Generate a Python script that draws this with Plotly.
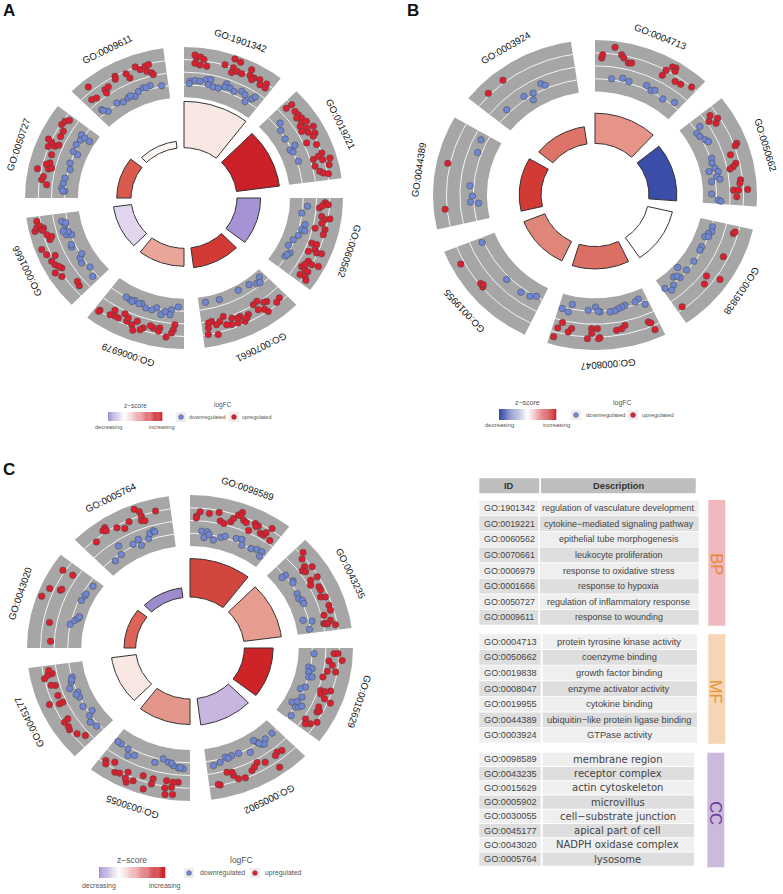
import numpy as np
import plotly.graph_objects as go
from plotly.colors import sample_colorscale

W, H = 783, 894
_GREY = "#A6A6A6"
_EDGE = "#333333"
_BLUE = "#7086D2"
_RED = "#DC1F2E"
_FONT = "Liberation Sans, Arial, sans-serif"
_TEXT = "#333333"

# angles are degrees clockwise from 12 o'clock, second value is logFC
A_IDS = ["GO:1901342", "GO:0019221", "GO:0060562", "GO:0070661", "GO:0006979", "GO:0001666", "GO:0050727", "GO:0009611"]
A_BARS = [0.64, 0.605, 0.482, 0.466, 0.452, 0.447, 0.423, 0.378]
A_COLORS = ["#F7E8E4", "#CB2027", "#A593D3", "#D23B35", "#E9A598", "#E2D6EE", "#DB5A4E", "#FBF4F0"]
A_UP = [
    (4.9, 1.74), (6.4, 1.9), (4.2, 2.1), (7.8, 1.65), (4.4, 1.1), (6.5, 0.94), (9.3, 0.92), (16.3, 1.55), (19.2, 2.55),
    (21.6, 2.4), (19.8, 1.5), (21.8, 1.25), (19.8, 0.9), (23.8, 1.2), (26.6, 2.1), (27.1, 1.4), (29, 1.35), (28.5, 1.05),
    (31.4, 1.5), (32.5, 1), (34.5, 1.5), (35, 1),
    (47.3, 0.76), (47.6, 1.5), (50.6, 1.26), (52.5, 1.3), (54.4, 1.38), (53.2, 0.92), (56.1, 1.03), (56.6, 1.6), (57, 0.67),
    (59, 1.2), (59.7, 1.95), (59.2, 0.5), (60.9, 1.1), (62.4, 1.73), (64.7, 0.35), (67, 1.3), (63.3, 1.38), (71, 1.5),
    (72.6, 0.34), (71.9, 1), (73.8, 1.35), (73.9, 2.2), (76.4, 1.9), (75.7, 0.3), (78.3, 0.7), (79.3, 1.05), (80, 1.6),
    (92, 0.98), (92.8, 1.35), (94.4, 0.38), (93.4, 0.7), (98, 0.74), (99.2, 1.16), (98.6, 1.7), (101, 0.88), (103.3, 1.4),
    (103.6, 0.27), (105.5, 1.36), (110.4, 0.43), (110.3, 1), (112.5, 1.05), (114.3, 0.45), (113.6, 1.37), (113.1, 1.93),
    (118.2, 0.96), (118.8, 1.49), (118.2, 2.25), (121.5, 0.62), (122, 1.14), (122.1, 1.55), (124.8, 1), (124.3, 1.58),
    (125.4, 1.93), (120, 0.8),
    (137.8, 1.07), (139.8, 1.27), (142.8, 0.47), (144, 0.35), (146.2, -0.18), (148.3, -0.06), (147.7, 0.74), (145.5, 1.1),
    (144.8, 1.54), (152.3, 0.69), (154.8, 1.25), (155.8, 0.47), (157.6, 1.12), (159.3, 0.3), (160.3, 1.03), (162.3, 0.86),
    (162.5, -0.2), (164.6, 0.26), (166.3, 0.55), (168, 0.04), (169.5, 0.16), (169.9, 0.73), (166.6, 1.73), (170.4, 1.5),
    (157, 0.6), (153.5, 0.95),
    (183.9, 0.14), (184.4, 0.75), (185, 1.14), (187, 1.7), (190, 0.73), (190.3, 1.15), (192.6, 0.88), (194, 0.7), (196.6, 1.16),
    (197.6, 1.47), (199.8, 0.62), (200.2, 1.8), (201.4, 1.22), (203.8, 1.07), (203.8, 0.63), (205.8, 0.33), (207.5, 1.12),
    (209, 1.12), (210.3, 0.5), (211, 1.23), (215.4, 1.41), (215.6, 1.6),
    (228.6, 0.8), (230.5, 0.64), (235.9, 1.7), (238.5, 2.1), (238.9, 1.16), (241.4, 1.62), (240, 1.35), (243.3, 1.77),
    (244.8, 1.12), (246.5, 1.95), (249.1, 2.24), (251.9, 0.96), (253, 0.65), (254.3, 1.14), (256.8, 1.54), (256.7, 2.33),
    (257.9, 2.06), (257.3, 1.3), (260.5, 1.9), (258.5, 1.7), (256.5, 1.5),
    (275.8, 0.62), (277.7, 1.25), (279.2, 1.12), (281.9, 1.95), (282.7, 0.73), (283.4, 0.4), (285.4, 0.73), (289, 0.85),
    (291.8, 1.54), (292.9, 0.85), (293.9, 1.38), (294, 0.5), (294.6, 1.88), (297.7, 0.78), (300.2, 0.8), (302.3, 1.38),
    (304.2, 1.28), (305.5, 0.93), (284.5, 1.1),
    (320.7, 2.1), (318.3, 0.7), (320.3, 0.48), (325.3, 0.7), (327.1, 0.78), (325, 0.27), (331.7, 1.47), (336.1, 1.2),
    (336.8, 0.56), (340.5, 1.58), (342, 1.09), (344.3, 1.3), (345.8, 1.4), (344.4, 0.67), (346.2, 0.36), (346.7, 0.12),
    (331.2, 1.15),
]
A_DOWN = [
    (2.8, -1.07), (5.1, -0.95), (7.4, -0.97), (2.5, -1.35), (10.3, -0.66), (12.1, -0.57), (11.5, -1.2), (14, -1.35),
    (16.5, -1.33), (19.5, -0.57), (19.3, -0.98), (21.7, -0.9), (24, -1.1), (27.2, -0.7), (29.3, -0.9), (31, -1.58),
    (33, -0.93), (33.8, -0.5),
    (50.6, -0.93), (53.7, -1.43), (58.4, -1.57), (63.4, -0.96), (64.5, -1.7), (66.1, -1.5), (71.3, -1.34),
    (94, -1), (97.7, -1.55), (103, -0.94), (105.8, -1.16), (109, -1.3), (106, -0.8), (111.9, -1.67), (115.5, -1.92),
    (118.6, -1.33), (121.3, -1.63), (120, -1.5),
    (137.8, -2.3), (141.1, -1.9), (139.5, -1.75), (144.5, -2.32), (150.8, -2.4), (161.7, -2.25), (168.9, -2.33),
    (182.8, -2), (186, -1.6), (186.5, -1), (190.6, -0.86), (189, -1.3), (193.3, -1.55), (195.3, -1.2), (198.3, -1.2),
    (200.8, -1.54), (204.4, -1.58), (206.8, -1.44), (209, -1.5), (205.5, -1.35), (202, -1.4),
    (227.9, -1.07), (232.3, -1.56), (236.3, -1.07), (238.7, -1.24), (240.2, -1.65), (245.3, -1), (246.5, -1.1),
    (251.8, -1), (251, -1.56), (253, -1.3), (253.8, -0.78), (256.7, -1.16), (258.6, -0.88), (257.6, -1.3),
    (273.4, -1.5), (274.9, -1.1), (273.5, -1.25), (277.4, -1.24), (280, -1.33), (284.7, -1.67), (287.9, -1.44),
    (293.2, -1.9), (293.9, -1.3), (297.5, -1.24), (303, -1.18), (300.5, -1.4), (302.5, -1.7), (302.2, -2.35),
    (318.5, -0.94), (320.3, -1.57), (318.8, -1.15), (326.1, -1.36), (329, -1.65), (332.1, -1.5), (335.4, -1.7),
    (337.9, -1.3), (340.6, -1.1), (344, -1.07), (349.3, -1.38), (342, -1.2), (333.5, -1.4),
]

B_IDS = ["GO:0004713", "GO:0050662", "GO:0019838", "GO:0008047", "GO:0019955", "GO:0044389", "GO:0003924"]
B_BARS = [0.528, 0.505, 0.49, 0.477, 0.472, 0.468, 0.445]
B_COLORS = ["#E69488", "#3A4DA8", "#FFFFFF", "#DD6E63", "#E0857A", "#D23B35", "#DE7468"]
B_UP = [
    (2.7, 0.92), (3, 1.3), (7.4, 2.3), (10.3, 1.55), (11.4, 1.22), (13.6, 0.76), (14.9, 0.85), (28.6, 1.49), (28.3, 0.78),
    (30.1, 2.17), (31.4, 2.27), (31.8, 1.88), (34, 0.9), (36.5, 1), (40.6, 1.5),
    (54.2, 0.76), (56.8, 1.28), (56, 0.28), (58.2, 0.82), (69.1, 1.86), (72.8, 0.76), (76.7, 1.08), (77.9, 0.7), (78.6, 0.3),
    (83.8, 1.27), (85.2, 1.16), (87.9, 0.4), (87.9, 0.95), (87.8, 1.97), (90.7, 0.75), (69.8, 1.6),
    (106.2, 1), (105.4, 1.15), (143.3, 1.2), (116.7, 0.96), (127.2, 0.55), (130.4, 0.96), (125.2, 2),
    (156.9, 2), (158.1, 0.89), (157.3, 1.1), (171.3, 0.89), (167.6, 0.5), (169.2, 0.8), (178.1, 1.58), (178.6, 1.7),
    (179, 0.52), (181.4, 0.52), (181.3, 1.1), (182.9, 1.7), (189.5, 0.73), (190.6, 1.18), (193.7, 0.25), (195, 0.98), (195.6, 2.1),
    (229.4, 1.42), (231, 1.34), (230, 1.2), (241.7, 1.93),
    (264.3, 1.73), (282.7, 1.77),
    (314.9, 1.73), (322.5, 1.8),
]
B_DOWN = [
    (7.8, -1.38), (12.8, -1.1), (16, -1.3), (24.3, -1.04), (27.1, -1.36), (28.7, -1.15), (34, -1.55), (39.4, -1.1),
    (55.7, -0.9), (57.6, -1.6), (59.8, -1.5), (62.3, -1.2), (63.8, -0.96), (71.8, -1.36), (74.1, -1.5), (76.9, -1.3),
    (77.9, -2.05), (78.8, -1.04), (81, -1.3), (83.2, -1.96), (82.5, -1), (89.5, -2.05), (92.4, -1.3), (93, -1),
    (105.8, -1.43), (108.2, -1.36), (109.5, -1.63), (111.6, -1.87), (111, -1.5), (116.9, -1.72), (118.8, -1.7), (125, -1.6),
    (130.6, -1.6), (132.5, -2.55), (135.4, -1.55), (137.5, -2.1), (140.2, -1.38), (144.4, -1.65), (142.4, -1.05), (136, -1.9),
    (156.3, -1.15), (158.3, -2), (160.3, -1.8), (165.4, -1.78), (167.1, -1.67), (168.9, -1.55), (170.7, -1.36), (173, -1.33),
    (177.6, -1.42), (179.7, -2), (178.5, -1.5), (183.2, -1.6), (191.2, -2.05), (192.3, -1.1), (195.4, -1.33),
    (208.9, -1.57), (211.6, -1.2), (216.1, -1.04), (225, -1.13), (246.3, -1.3),
    (265.8, -2.03), (266.6, -1.15), (269.5, -1.38), (274.4, -1.07), (290.7, -1.07), (296.8, -0.8),
    (315.3, -1.07), (325.4, -1.1), (329.9, -1.33), (328.2, -2), (335, -0.74), (336.5, -1.1),
]

C_IDS = ["GO:0098589", "GO:0043235", "GO:0015629", "GO:0005902", "GO:0030055", "GO:0045177", "GO:0043020", "GO:0005764"]
C_BARS = [0.585, 0.565, 0.51, 0.507, 0.5, 0.485, 0.405, 0.396]
C_COLORS = ["#D1463F", "#E69C8F", "#CE2428", "#C9B6E0", "#E39689", "#F8E7E2", "#DD6257", "#9E8BCB"]
C_UP = [
    (4, 1.07), (2.7, 0.54), (2.6, 0.3), (7.7, 0.98), (11.4, 1.27), (12.6, 0.3), (14.4, 0.12), (16.9, 0.52), (17.5, 0.98),
    (18.9, 1.54), (20, 1.96), (19.8, 1.55), (21.5, 1.16), (22.8, 1), (25.1, 0.25), (26.2, 1.32), (27.8, 1.21), (27, 1.05),
    (29.9, 0.56), (31.5, 0.57), (31.8, 0.95), (32.8, 1.73), (34.9, 0.4),
    (48, 1.8), (49.8, 1.2), (54.7, 1.52), (52.9, 0.85), (53.8, 0.36), (54.9, 0.6), (59.1, 0.52), (59.2, 1.35), (61, 0.22),
    (63.2, 0.95), (64.7, 0.95), (67.4, 0.62), (68.1, 1.12), (71.9, 1.14), (74, 1.14), (75.4, 0.27), (78.1, 0.85), (79, 0.05),
    (79.2, 0.25), (79.4, 0.45), (80.3, 1.3),
    (92.4, 0.92), (92.3, 1.36), (95, 1.86), (95.7, 0.41), (97.4, 0.85), (100, 1.33), (100.2, 0.4), (103.1, 0.07), (109.1, 0.27),
    (110.5, 0.4), (108.1, 1.32), (109, 0.8), (111.9, 1), (112.7, 1.8), (116, 0.82), (118.2, 0.92), (117.5, 1.1), (123.2, 0.24),
    (123.9, 1), (125, 0.55), (121.9, 1.52),
    (139.9, 0.76), (141.9, 0.57), (143.3, 0.78), (144.8, 2.17), (148.3, 0.8), (151.2, 0.36), (154.6, 0.96), (153, 0.7),
    (158.2, 1.45), (160.8, 1.3), (162.2, 0.76), (162.4, 0.34), (164.4, 0.18), (168.3, 1.45), (169, 1.35),
    (184.7, 0.85), (186.7, 0.9), (187.1, 1.5), (189.1, 2.45), (186.4, 2.35), (189.6, 1.7), (189.4, 0.82), (194.8, 0.92),
    (194.9, 1.55), (199, 0.88), (197.3, 2.37), (201.9, 1.83), (204, 2.3), (205.1, 1.14), (209.6, 1.8), (211.7, 0.8),
    (207.8, 1.65), (215.1, 1.18), (214.3, 1.5), (205, 1.9),
    (228.3, 0.47), (231, 1.05), (234.1, 1.42), (235.5, 1.3), (237.8, 1.37), (238.3, 0.86), (245.5, 0.85), (249, 0.62),
    (246.8, 1.88), (245.6, 0.42), (253.5, 0.5), (254, 0.95), (258.8, 0.52), (257.3, 1.47), (258.4, 1.04), (260.4, 0.82),
    (272.9, 0.42), (280.9, 0.8), (290.4, 2.47), (294.3, 2), (295.4, 0.85), (296, 0.75), (303.5, 0.52), (303.1, 1.75),
    (320.4, 1.2), (326.4, 2), (325.1, 1.8), (326.2, 1.6), (330.3, 1.28), (332.9, 0.8), (335.6, 1.3), (339.3, 2.44), (340.7, 2),
    (340.9, 1.42), (340.3, 0.9), (341.6, 0.78), (346.7, 1.55),
]
C_DOWN = [
    (5.4, -1.2), (8, -1.2), (6.8, -1.94), (9, -1.5), (11.5, -2.05), (14.6, -1.56), (16.5, -1.3), (21.6, -1.15), (24.1, -1),
    (25.3, -1.6), (29.9, -1.5), (32.5, -1.25), (35, -1.18), (35.4, -1.75),
    (50.9, -1.43), (50.8, -1.9), (55.2, -1.15), (56, -1.3), (61.6, -1.56), (64.2, -1.67), (65.6, -1.4), (67.4, -1.4),
    (75.4, -2.1), (76.8, -1.16), (80.5, -1.63),
    (92.8, -1.3), (99.7, -1.7), (100.2, -1.3), (102, -1.6), (104.6, -1.45), (104.2, -1.1), (109.8, -1.47), (111.4, -1.9),
    (115, -1.35), (119.5, -2.06), (120.8, -1.45), (120, -1.13), (119, -0.9), (125.4, -1.3), (118, -1.6),
    (137.9, -1.5), (142.1, -1.46), (145.1, -1.2), (146.3, -1.68), (147.2, -2.05), (151.5, -1.05), (156.6, -1.5), (160.1, -1.53),
    (163.2, -1.58), (166.1, -1.15), (169.4, -0.93), (144, -1.05), (162, -1.35), (145.8, -1.45),
    (183, -0.77), (185.2, -0.84), (187.6, -1.04), (190.1, -1.34), (192.8, -1.63), (196.1, -1), (205.8, -0.96), (208.4, -0.6),
    (210, -1.3), (213.9, -1.4), (215.8, -1.43), (184.3, -0.9), (188.5, -1.3),
    (228.3, -1.2), (231.6, -0.95), (234.4, -1.36), (239.8, -1.33), (235.8, -1.94), (244.7, -1.5), (247.3, -1.58), (246.5, -1.3),
    (250.2, -0.87), (252.9, -1.3), (255.3, -1.55), (254, -1.4),
    (281.9, -1.48), (284.3, -1.85), (285.6, -2.15), (286.7, -2.26), (295, -1.76), (297.8, -1.85), (299, -1.9), (304.2, -2.06),
    (321.2, -1.85), (325.4, -1.65), (326.7, -0.65), (332.8, -1.27), (335.9, -1), (336.1, -1.78), (340.5, -1.34), (341.8, -0.82),
    (343.6, -0.62), (344.1, -0.78),
]

BP_IDS = A_IDS
BP_DESC = ["regulation of vasculature development", "cytokine−mediated signaling pathway", "epithelial tube morphogenesis",
           "leukocyte proliferation", "response to oxidative stress", "response to hypoxia",
           "regulation of inflammatory response", "response to wounding"]
MF_IDS = B_IDS
MF_DESC = ["protein tyrosine kinase activity", "coenzyme binding", "growth factor binding", "enzyme activator activity",
           "cytokine binding", "ubiquitin−like protein ligase binding", "GTPase activity"]
CC_IDS = C_IDS
CC_DESC = ["membrane region", "receptor complex", "actin cytoskeleton", "microvillus", "cell−substrate junction",
           "apical part of cell", "NADPH oxidase complex", "lysosome"]

R_HOLE = 0.333
R_RING = 0.667


def px(x):
    return x / W


def py(y):
    return 1 - y / H


def lfc_to_r(v):
    return R_RING + (np.asarray(v, dtype=float) + 3) / 6 * (1 - R_RING)


def polar_xy(theta, r):
    t = np.radians(theta)
    return r * np.sin(t), r * np.cos(t)


def sector_outline(start, end, r0, r1):
    t = np.linspace(start, end, 40)
    x1, y1 = polar_xy(t, r1)
    x0, y0 = polar_xy(t[::-1], r0)
    return list(x1) + list(x0) + [x1[0]], list(y1) + list(y0) + [y1[0]]


fig = go.Figure()
shapes = []
notes = []


def note(x, y, text, size, color=_TEXT, angle=0, family=_FONT, anchor="center"):
    notes.append(dict(x=px(x), y=py(y), xref="paper", yref="paper", text=text, showarrow=False, textangle=angle,
                      xanchor=anchor, yanchor="middle", font=dict(size=size, color=color, family=family)))


def rect(x0, y0, x1, y1, color):
    shapes.append(dict(type="rect", xref="paper", yref="paper", x0=px(x0), x1=px(x1), y0=py(y1), y1=py(y0),
                       fillcolor=color, line=dict(width=0), layer="below"))


def circle_panel(idx, cx, cy, rx, ry, ids, bars, colors, up, down):
    n = len(ids)
    step = 360 / n
    width = step * 5 / 6
    pad = 1.02
    sfx = "" if idx == 1 else str(idx)
    ax = dict(xaxis="x" + sfx, yaxis="y" + sfx)
    fig.update_layout({
        "xaxis" + sfx: dict(domain=[px(cx - pad * rx), px(cx + pad * rx)], range=[-pad, pad], visible=False, fixedrange=True),
        "yaxis" + sfx: dict(domain=[py(cy + pad * ry), py(cy - pad * ry)], range=[-pad, pad], visible=False, fixedrange=True),
    })
    for i in range(n):
        start = i * step
        end = start + width
        gx, gy = sector_outline(start, end, R_RING, 1)
        fig.add_trace(go.Scatter(x=gx, y=gy, mode="lines", fill="toself", fillcolor=_GREY, line=dict(width=0), **ax))
        for v in (-1.5, 0, 1.5):
            t = np.linspace(start, end, 40)
            lx, ly = polar_xy(t, lfc_to_r(v))
            fig.add_trace(go.Scatter(x=lx, y=ly, mode="lines", line=dict(color="#F4F4F4", width=1), **ax))
        bx, by = sector_outline(start, end, R_HOLE, bars[i])
        fig.add_trace(go.Scatter(x=bx, y=by, mode="lines", fill="toself", fillcolor=colors[i],
                                 line=dict(color=_EDGE, width=1), **ax))
        mid = start + width / 2
        lx, ly = polar_xy(mid, 1.10)
        note(cx + lx * rx, cy - ly * ry, ids[i], 9.6, "#111111", angle=mid)
    for pts, col in ((down, _BLUE), (up, _RED)):
        theta = [p[0] for p in pts]
        mx, my = polar_xy(np.array(theta), lfc_to_r([p[1] for p in pts]))
        fig.add_trace(go.Scatter(x=mx, y=my, mode="markers",
                                 marker=dict(color=col, size=6.5, line=dict(color="#444444", width=0.5)), **ax))


def legend_block(low, mid, x0, x1, y0, y1, zx, logx, ty, dec_y, dots, sizes):
    scale = [[0, low], [mid, "#FFFFFF"], [1, "#CB2027"]]
    steps = 60
    cols = sample_colorscale(scale, np.linspace(0, 1, steps))
    dx = (x1 - x0) / steps
    for i, c in enumerate(cols):
        rect(x0 + i * dx, y0, x0 + (i + 1) * dx + 0.3, y1, c)
    note(zx, ty, "z−score", sizes[0], "#555555")
    note(logx, ty, "logFC", sizes[0], "#555555")
    note(x0, dec_y, "decreasing", sizes[1], "#555555")
    note(x1, dec_y, "increasing", sizes[1], "#555555")
    bx, tx1, rx_, tx2, ky = dots
    rect(bx - 5, ky - 5, bx + 5, ky + 5, "#EDEDED")
    rect(rx_ - 5, ky - 5, rx_ + 5, ky + 5, "#EDEDED")
    note(tx1, ky, "downregulated", sizes[1], "#555555")
    note(tx2, ky, "upregulated", sizes[1], "#555555")
    return bx, rx_, ky


def legend_dots(positions):
    xs = [p[0] for p in positions]
    ys = [p[1] for p in positions]
    cols = [p[2] for p in positions]
    fig.add_trace(go.Scatter(x=[px(x) for x in xs], y=[py(y) for y in ys], mode="markers", xaxis="x4", yaxis="y4",
                             marker=dict(color=cols, size=5, line=dict(color="#444444", width=0.3))))


def table_block(ids, desc, top, bottom, id_x1, d_x0, d_x1, size, id_size, d_family=_FONT):
    step = (bottom - top) / len(ids)
    for i, (g, d) in enumerate(zip(ids, desc)):
        c = "#EFEFEF" if i % 2 == 0 else "#DEDEDE"
        y0 = top + i * step
        y1 = y0 + step - 0.9
        rect(479.3, y0, id_x1, y1, c)
        rect(d_x0, y0, d_x1, y1, c)
        note(481.8, (y0 + y1) / 2, g, id_size, "#444444", anchor="left")
        note((d_x0 + d_x1) / 2 - 0.5, (y0 + y1) / 2, d, size, "#444444", family=d_family)


circle_panel(1, 184, 198, 159, 151, A_IDS, A_BARS, A_COLORS, A_UP, A_DOWN)
circle_panel(2, 595, 195, 162, 155, B_IDS, B_BARS, B_COLORS, B_UP, B_DOWN)
circle_panel(3, 190, 648, 163, 153, C_IDS, C_BARS, C_COLORS, C_UP, C_DOWN)

fig.update_layout(
    xaxis4=dict(domain=[0, 1], range=[0, 1], visible=False, fixedrange=True),
    yaxis4=dict(domain=[0, 1], range=[0, 1], visible=False, fixedrange=True),
)
a = legend_block("#A593D3", 0.3, 108, 162, 412, 421, 135, 223, 405.5, 427, (181, 207, 234, 257, 417), (6.5, 5.6))
b = legend_block("#3A4DA8", 0.5, 499, 556, 409, 420, 527, 622, 403, 425, (576, 605, 633, 658, 415), (7, 6))
c = legend_block("#A593D3", 0.3, 99, 165, 867, 878, 132, 241, 860, 886, (189, 222, 255, 283, 873), (8.5, 6.9))
legend_dots([(a[0], a[2], _BLUE), (a[1], a[2], _RED), (b[0], b[2], _BLUE), (b[1], b[2], _RED),
             (c[0], c[2], _BLUE), (c[1], c[2], _RED)])

note(9, 11, "<b>A</b>", 17, "#111111")
note(413, 11, "<b>B</b>", 17, "#111111")
note(9, 469, "<b>C</b>", 17, "#111111")

rect(479.3, 478.3, 539.3, 493.3, "#BEBEBE")
rect(541, 478.3, 695.7, 493.3, "#BEBEBE")
note(509.3, 485.8, "<b>ID</b>", 9.3, "#333333")
note(618.3, 485.8, "<b>Description</b>", 9.3, "#333333")

table_block(BP_IDS, BP_DESC, 500.7, 625.7, 538.3, 540, 698.7, 9, 8.9)
table_block(MF_IDS, MF_DESC, 634.3, 743.7, 540.7, 542.7, 697, 9.3, 9.2)
table_block(CC_IDS, CC_DESC, 752.7, 866.7, 540.7, 542.7, 694, 10, 9.2, "DejaVu Sans")

rect(708.3, 500, 725.3, 625.7, "#EFB9BE")
rect(708.3, 634.3, 725.3, 743.7, "#F5D5B5")
rect(707.3, 752.7, 724.3, 867.3, "#CBB9DE")
note(716.8, 564, "BP", 16.5, "#E8883A", angle=90)
note(716.8, 691.5, "MF", 16.5, "#E59A3C", angle=90)
note(715.8, 813, "CC", 16.5, "#6A3D9A", angle=90)

fig.update_layout(
    width=W, height=H, margin=dict(l=0, r=0, t=0, b=0), showlegend=False,
    paper_bgcolor="#FFFFFF", plot_bgcolor="rgba(0,0,0,0)", shapes=shapes, annotations=notes,
)
fig.write_html("out.html", config=dict(displayModeBar=False), post_script="document.body.style.margin='0';")
